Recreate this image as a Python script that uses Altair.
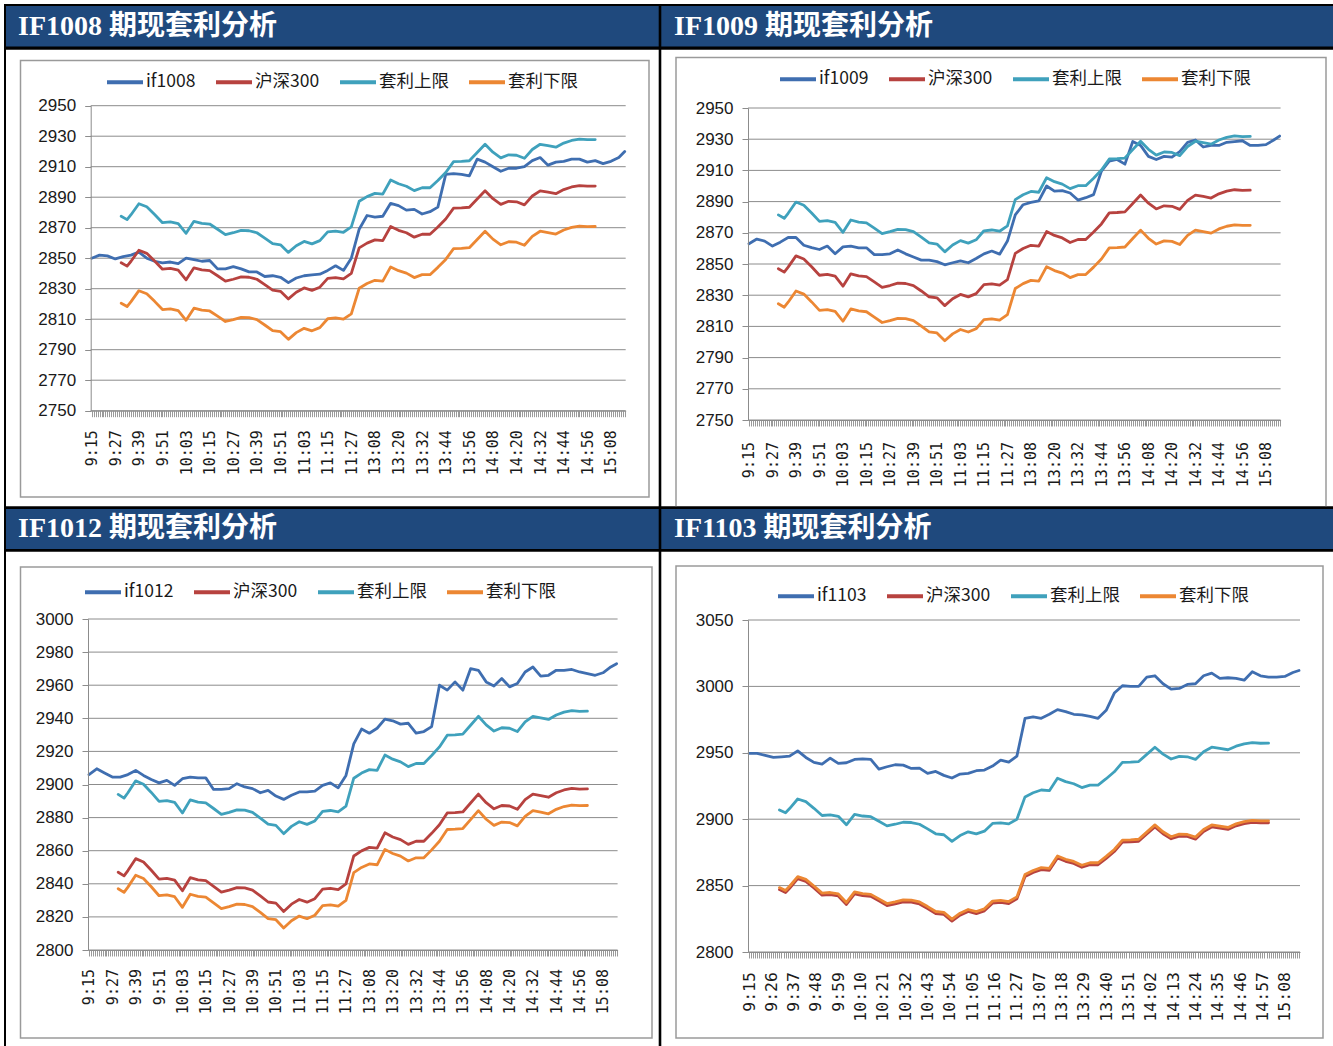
import json
import altair as alt
import pandas as pd

W, H = 1333, 1046

TITLES = ["IF1008 期现套利分析", "IF1009 期现套利分析", "IF1012 期现套利分析", "IF1103 期现套利分析"]
FUT_NAMES = ["if1008", "if1009", "if1012", "if1103"]
SPOT_NAME = "沪深300"
UP_NAME = "套利上限"
LO_NAME = "套利下限"
COLORS = ["#3F6EB0", "#B7423F", "#3FA1BC", "#EC8733"]

# minute index: 0 = 9:15 ... 135 = 11:30, 136 = 13:00 ... 271 = 15:15
FUT_IDX = list(range(0, 269, 4)) + [271]
SPOT_IDX = [15, 18] + list(range(20, 257, 4))

LABELS_12 = ["9:15", "9:27", "9:39", "9:51", "10:03", "10:15", "10:27", "10:39", "10:51", "11:03",
             "11:15", "11:27", "13:08", "13:20", "13:32", "13:44", "13:56", "14:08", "14:20", "14:32",
             "14:44", "14:56", "15:08"]
LABELS_11 = ["9:15", "9:26", "9:37", "9:48", "9:59", "10:10", "10:21", "10:32", "10:43", "10:54",
             "11:05", "11:16", "11:27", "13:07", "13:18", "13:29", "13:40", "13:51", "14:02", "14:13",
             "14:24", "14:35", "14:46", "14:57", "15:08"]

IF1008 = [2850, 2852, 2851.5, 2849.5, 2851, 2852, 2854, 2850, 2848, 2847, 2847.5, 2846.5, 2850, 2849,
          2848, 2848.5, 2843, 2843, 2844.5, 2843, 2841, 2841, 2838, 2838.5, 2837.5, 2834, 2837, 2838.5,
          2839, 2839.5, 2842, 2845, 2842, 2850, 2869, 2878, 2877, 2877.5, 2886, 2884.5, 2881.5, 2882,
          2879, 2880.5, 2883.5, 2905, 2905.5, 2905, 2904, 2915, 2913, 2910, 2907, 2909, 2909, 2910,
          2914, 2916, 2911, 2913, 2913.5, 2915, 2915, 2913, 2914, 2912, 2913.5, 2916, 2920]
IF1009 = [2863, 2866, 2864.7, 2861.5, 2864, 2867, 2867, 2862, 2860.5, 2859.3, 2861.5, 2856.6, 2861,
          2861.5, 2860.4, 2860.4, 2856, 2856, 2856.5, 2859, 2856.5, 2854.5, 2852.5, 2852.5, 2851.5,
          2849.5, 2850.8, 2852, 2850.8, 2853.5, 2856.5, 2858.3, 2856.3, 2864.7, 2881.5, 2888, 2889.5,
          2890.5, 2900, 2896.7, 2897, 2895.5, 2891, 2892.5, 2894.5, 2909.5, 2916, 2917, 2914, 2928.5,
          2926, 2919, 2917, 2919, 2918.5, 2922, 2928, 2929.5, 2925, 2926, 2926, 2928, 2928.5, 2929,
          2926, 2926, 2926.5, 2929.5, 2932]
IF1012 = [2906, 2909.5, 2907, 2904.5, 2904.5, 2906, 2908.5, 2905.5, 2903, 2901, 2902.5, 2899.5, 2903.5,
          2904.5, 2904, 2904, 2897, 2897, 2897.5, 2900.5, 2898.5, 2897.5, 2895, 2896.5, 2893, 2891,
          2893.5, 2895.5, 2895.5, 2896, 2899.5, 2901, 2898, 2905.5, 2924.5, 2933.5, 2931, 2934, 2939.5,
          2938.5, 2936.5, 2937, 2931, 2932, 2935, 2960, 2957, 2962, 2957, 2970, 2969, 2962, 2959.5,
          2964, 2959, 2961, 2968, 2971, 2965.5, 2966, 2969, 2969, 2969.5, 2968, 2967, 2966, 2967.5,
          2971, 2973]
IF1103 = [2949.5, 2949.5, 2948, 2946.5, 2947, 2947.5, 2951.5, 2946.5, 2942.8, 2941.5, 2946, 2942,
          2942.5, 2945, 2945.5, 2945, 2937.7, 2939.5, 2941, 2940.7, 2938.2, 2938.5, 2934.5, 2936, 2933,
          2931, 2934, 2934.5, 2936.5, 2937, 2940, 2944.5, 2943, 2947.5, 2976, 2977, 2976, 2979, 2982.5,
          2981, 2979, 2978.6, 2977.5, 2976, 2982, 2995, 3000.5, 3000, 3000, 3007, 3008, 3002, 2998,
          2998.5, 3001.5, 3002, 3008, 3010, 3006, 3006.5, 3006, 3004.7, 3011, 3008, 3007, 3007, 3007.5,
          3010.5, 3012]

HS300 = [2847, 2844.8, 2848, 2855.2, 2853.2, 2848.2, 2842.8, 2843.3, 2842.2, 2835.8, 2843.7, 2842.4,
         2841.9, 2838.5, 2835, 2836.2, 2837.7, 2837.5, 2836.2, 2832.7, 2829, 2828.3, 2823.3, 2827.7,
         2830.5, 2828.9, 2831, 2836.8, 2837.3, 2836.5, 2840, 2856.8, 2859.9, 2862, 2861.5, 2870.8,
         2868.3, 2866.7, 2863.8, 2865.7, 2865.7, 2870.5, 2875.7, 2882.8, 2883, 2883.4, 2888.8, 2894.2,
         2889, 2885.3, 2887.3, 2887, 2885, 2890.8, 2894.2, 2893.3, 2892.3, 2895, 2896.7, 2897.6,
         2897.2, 2897.3]

UP1008 = [2877.5, 2875.3, 2878.5, 2885.7, 2883.7, 2878.7, 2873.3, 2873.8, 2872.7, 2866.3, 2874.2,
          2872.9, 2872.4, 2869, 2865.5, 2866.7, 2868.2, 2868, 2866.7, 2863.2, 2859.5, 2858.8, 2853.8,
          2858.2, 2861, 2859.4, 2861.5, 2867.3, 2867.8, 2867, 2870.5, 2887.3, 2890.4, 2892.5, 2892,
          2901.3, 2898.8, 2897.2, 2894.3, 2896.2, 2896.2, 2901, 2906.2, 2913.3, 2913.5, 2913.9, 2919.3,
          2924.7, 2919.5, 2915.8, 2917.8, 2917.5, 2915.5, 2921.3, 2924.7, 2923.8, 2922.8, 2925.5,
          2927.2, 2928.1, 2927.7, 2927.8]
LO1008 = [2820.5, 2818.3, 2821.5, 2828.7, 2826.7, 2821.7, 2816.3, 2816.8, 2815.7, 2809.3, 2817.2,
          2815.9, 2815.4, 2812, 2808.5, 2809.7, 2811.2, 2811, 2809.7, 2806.2, 2802.5, 2801.8, 2796.8,
          2801.2, 2804, 2802.4, 2804.5, 2810.3, 2810.8, 2810, 2813.5, 2830.3, 2833.4, 2835.5, 2835,
          2844.3, 2841.8, 2840.2, 2837.3, 2839.2, 2839.2, 2844, 2849.2, 2856.3, 2856.5, 2856.9, 2862.3,
          2867.7, 2862.5, 2858.8, 2860.8, 2860.5, 2858.5, 2864.3, 2867.7, 2866.8, 2865.8, 2868.5,
          2870.2, 2871.1, 2870.7, 2870.8]
UP1009 = [2881.5, 2879.3, 2882.5, 2889.7, 2887.7, 2882.7, 2877.3, 2877.8, 2876.7, 2870.3, 2878.2,
          2876.9, 2876.4, 2873, 2869.5, 2870.7, 2872.2, 2872, 2870.7, 2867.2, 2863.5, 2862.8, 2857.8,
          2862.2, 2865, 2863.4, 2865.5, 2871.3, 2871.8, 2871, 2874.5, 2891.3, 2894.4, 2896.5, 2896,
          2905.3, 2902.8, 2901.2, 2898.3, 2900.2, 2900.2, 2905, 2910.2, 2917.3, 2917.5, 2917.9, 2923.3,
          2928.7, 2923.5, 2919.8, 2921.8, 2921.5, 2919.5, 2925.3, 2928.7, 2927.8, 2926.8, 2929.5,
          2931.2, 2932.1, 2931.7, 2931.8]
LO1009 = [2824.5, 2822.3, 2825.5, 2832.7, 2830.7, 2825.7, 2820.3, 2820.8, 2819.7, 2813.3, 2821.2,
          2819.9, 2819.4, 2816, 2812.5, 2813.7, 2815.2, 2815, 2813.7, 2810.2, 2806.5, 2805.8, 2800.8,
          2805.2, 2808, 2806.4, 2808.5, 2814.3, 2814.8, 2814, 2817.5, 2834.3, 2837.4, 2839.5, 2839,
          2848.3, 2845.8, 2844.2, 2841.3, 2843.2, 2843.2, 2848, 2853.2, 2860.3, 2860.5, 2860.9, 2866.3,
          2871.7, 2866.5, 2862.8, 2864.8, 2864.5, 2862.5, 2868.3, 2871.7, 2870.8, 2869.8, 2872.5,
          2874.2, 2875.1, 2874.7, 2874.8]
UP1012 = [2894, 2891.8, 2895, 2902.2, 2900.2, 2895.2, 2889.8, 2890.3, 2889.2, 2882.8, 2890.7, 2889.4,
          2888.9, 2885.5, 2882, 2883.2, 2884.7, 2884.5, 2883.2, 2879.7, 2876, 2875.3, 2870.3, 2874.7,
          2877.5, 2875.9, 2878, 2883.8, 2884.3, 2883.5, 2887, 2903.8, 2906.9, 2909, 2908.5, 2917.8,
          2915.3, 2913.7, 2910.8, 2912.7, 2912.7, 2917.5, 2922.7, 2929.8, 2930, 2930.4, 2935.8, 2941.2,
          2936, 2932.3, 2934.3, 2934, 2932, 2937.8, 2941.2, 2940.3, 2939.3, 2942, 2943.7, 2944.6,
          2944.2, 2944.3]
LO1012 = [2837, 2834.8, 2838, 2845.2, 2843.2, 2838.2, 2832.8, 2833.3, 2832.2, 2825.8, 2833.7, 2832.4,
          2831.9, 2828.5, 2825, 2826.2, 2827.7, 2827.5, 2826.2, 2822.7, 2819, 2818.3, 2813.3, 2817.7,
          2820.5, 2818.9, 2821, 2826.8, 2827.3, 2826.5, 2830, 2846.8, 2849.9, 2852, 2851.5, 2860.8,
          2858.3, 2856.7, 2853.8, 2855.7, 2855.7, 2860.5, 2865.7, 2872.8, 2873, 2873.4, 2878.8, 2884.2,
          2879, 2875.3, 2877.3, 2877, 2875, 2880.8, 2884.2, 2883.3, 2882.3, 2885, 2886.7, 2887.6,
          2887.2, 2887.3]
UP1103 = [2907, 2904.8, 2908, 2915.2, 2913.2, 2908.2, 2902.8, 2903.3, 2902.2, 2895.8, 2903.7, 2902.4,
          2901.9, 2898.5, 2895, 2896.2, 2897.7, 2897.5, 2896.2, 2892.7, 2889, 2888.3, 2883.3, 2887.7,
          2890.5, 2888.9, 2891, 2896.8, 2897.3, 2896.5, 2900, 2916.8, 2919.9, 2922, 2921.5, 2930.8,
          2928.3, 2926.7, 2923.8, 2925.7, 2925.7, 2930.5, 2935.7, 2942.8, 2943, 2943.4, 2948.8, 2954.2,
          2949, 2945.3, 2947.3, 2947, 2945, 2950.8, 2954.2, 2953.3, 2952.3, 2955, 2956.7, 2957.6,
          2957.2, 2957.3]
LO1103 = [2848.5, 2846.3, 2849.5, 2856.7, 2854.7, 2849.7, 2844.3, 2844.8, 2843.7, 2837.3, 2845.2,
          2843.9, 2843.4, 2840, 2836.5, 2837.7, 2839.2, 2839, 2837.7, 2834.2, 2830.5, 2829.8, 2824.8,
          2829.2, 2832, 2830.4, 2832.5, 2838.3, 2838.8, 2838, 2841.5, 2858.3, 2861.4, 2863.5, 2863,
          2872.3, 2869.8, 2868.2, 2865.3, 2867.2, 2867.2, 2872, 2877.2, 2884.3, 2884.5, 2884.9, 2890.3,
          2895.7, 2890.5, 2886.8, 2888.8, 2888.5, 2886.5, 2892.3, 2895.7, 2894.8, 2893.8, 2896.5,
          2898.2, 2899.1, 2898.7, 2898.8]

TICKS_A = list(range(2750, 2951, 20))
TICKS_B = list(range(2800, 3001, 20))
TICKS_C = list(range(2800, 3051, 50))

for s in (IF1008, IF1009, IF1012, IF1103):
    assert len(s) == len(FUT_IDX), len(s)
for s in (HS300, UP1008, LO1008, UP1009, LO1009, UP1012, LO1012, UP1103, LO1103):
    assert len(s) == len(SPOT_IDX), len(s)

GRID = "#8c8c8c"
TEXT = "#1a1a1a"
LABEL_FONT = "Liberation Sans"
XLABEL_FONT = "DejaVu Sans Mono"
CJK = "Noto Sans CJK SC"
NAVY = "#1F497D"

ONE = alt.Data(values=[{"k": 1}])


def box(x1, y1, x2, y2, **kw):
    return alt.Chart(ONE).mark_rect(**kw).encode(
        x=alt.value(x1), x2=alt.value(x2), y=alt.value(y1), y2=alt.value(y2))


def head(x, y, t):
    return alt.Chart(ONE).mark_text(
        align="left", baseline="middle", font="'Liberation Serif', 'Noto Sans CJK SC', serif",
        fontSize=28, fontWeight="bold", color="white").encode(
        x=alt.value(x), y=alt.value(y), text=alt.value(t))


def panel(fut_name, fut, up, lo, x0, x1, ybot, ytop, ydom, yticks, labels, step, legx, legy,
          xpad, xfs):
    names = [fut_name, SPOT_NAME, UP_NAME, LO_NAME]
    rows = []
    for i, v in zip(FUT_IDX, fut):
        rows.append({"s": fut_name, "i": i, "v": v})
    for name, ser in ((SPOT_NAME, HS300), (UP_NAME, up), (LO_NAME, lo)):
        for i, v in zip(SPOT_IDX, ser):
            rows.append({"s": name, "i": i, "v": v})
    df = pd.DataFrame(rows)
    xs = alt.Scale(domain=[-0.5, 271.5], range=[x0, x1], nice=False, zero=False)
    ys = alt.Scale(domain=ydom, range=[ybot, ytop], nice=False, zero=False)
    lbl_expr = "datum.value %% %d == 0 ? %s[datum.value / %d] : ''" % (step, json.dumps(labels), step)
    xaxis = alt.Axis(values=list(range(272)), labelExpr=lbl_expr, labelAngle=-90, orient="bottom",
                     offset=ybot - H, tickSize=6, tickColor="#9a9a9a", domainColor=GRID,
                     labelFont=XLABEL_FONT, labelFontSize=xfs, labelColor=TEXT, labelPadding=xpad,
                     labelOverlap=False, labelFlush=False, grid=False, title=None, zindex=2)
    yaxis = alt.Axis(values=yticks, format="d", orient="left", offset=-x0, tickSize=6,
                     tickColor=GRID, domainColor=GRID, labelFont=LABEL_FONT, labelFontSize=17,
                     labelColor=TEXT, labelPadding=9, grid=False, title=None, zindex=2)
    leg = alt.Legend(orient="none", legendX=legx, legendY=legy, direction="horizontal", columns=4,
                     title=None, symbolType="stroke", symbolSize=1296, symbolStrokeWidth=4,
                     labelFont=CJK, labelFontSize=17.5, labelColor=TEXT, columnPadding=12,
                     labelOffset=1, padding=0, rowPadding=0)
    grid = alt.Chart(pd.DataFrame({"g": yticks})).mark_rule(color=GRID, strokeWidth=1).encode(
        y=alt.Y("g:Q", scale=ys, axis=yaxis),
        x=alt.X(datum=-0.5, type="quantitative", scale=xs, axis=xaxis),
        x2=alt.X2(datum=271.5))
    lines = alt.Chart(df).mark_line(strokeWidth=2.8, strokeJoin="round", strokeCap="round").encode(
        x=alt.X("i:Q", scale=xs, axis=xaxis),
        y=alt.Y("v:Q", scale=ys, axis=yaxis),
        color=alt.Color("s:N", scale=alt.Scale(domain=names, range=COLORS), legend=leg))
    return alt.layer(grid, lines)


BORDER = dict(fillOpacity=0, stroke="#9a9a9a", strokeWidth=1.5)
decor = [
    box(4, 4, W, H, color="black"),
    box(6, 49.5, 658.7, 506.5, color="white"),
    box(661.3, 49.5, W, 506.5, color="white"),
    box(6, 551.5, 658.7, H, color="white"),
    box(661.3, 551.5, W, H, color="white"),
    box(20.5, 60.5, 649, 497, **BORDER),
    box(676, 57.5, 1326, 515, **BORDER),
    box(20.5, 567, 652, 1038, **BORDER),
    box(676, 566, 1323, 1038, **BORDER),
    box(4, 46.5, W, 49.5, color="black"),
    box(4, 506.5, W, 551.5, color="black"),
    box(6, 6, 658.7, 46.5, color=NAVY),
    box(661.3, 6, W, 46.5, color=NAVY),
    box(6, 509, 658.7, 549, color=NAVY),
    box(661.3, 509, W, 549, color=NAVY),
    head(18, 27, TITLES[0]),
    head(674, 27, TITLES[1]),
    head(18, 529, TITLES[2]),
    head(674, 529, TITLES[3]),
]

p1 = panel(FUT_NAMES[0], IF1008, UP1008, LO1008, 90.7, 625.7, 410.7, 105.7, [2750, 2950], TICKS_A,
           LABELS_12, 12, 105, 62, 13, 15)
p2 = panel(FUT_NAMES[1], IF1009, UP1009, LO1009, 748, 1280.6, 420, 108, [2750, 2950], TICKS_A,
           LABELS_12, 12, 778, 59, 15.5, 15)
p3 = panel(FUT_NAMES[2], IF1012, UP1012, LO1012, 88, 617.6, 950, 619, [2800, 3000], TICKS_B,
           LABELS_12, 12, 83, 572, 12.5, 15)
p4 = panel(FUT_NAMES[3], IF1103, UP1103, LO1103, 748, 1300, 952, 620, [2800, 3050], TICKS_C,
           LABELS_11, 11, 776, 576, 13.5, 16.5)

chart = alt.layer(*decor, p1, p2, p3, p4).resolve_scale(
    x="independent", y="independent", color="independent"
).resolve_axis(x="independent", y="independent").resolve_legend(color="independent").properties(
    width=W, height=H, autosize=alt.AutoSizeParams(type="none"), padding=0
).configure_view(strokeWidth=0)

chart.save("out.html", embed_options={"renderer": "svg", "actions": False})
